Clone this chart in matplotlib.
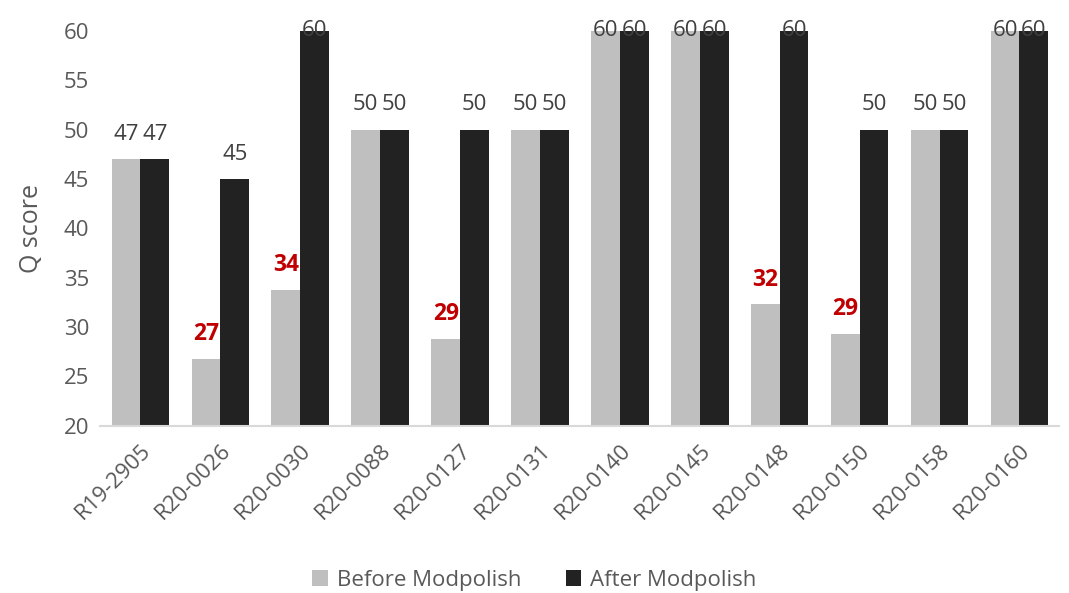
import matplotlib.pyplot as plt
import numpy as np

samples = ['R19-2905', 'R20-0026', 'R20-0030', 'R20-0088', 'R20-0127', 'R20-0131',
           'R20-0140', 'R20-0145', 'R20-0148', 'R20-0150', 'R20-0158', 'R20-0160']
before = [47, 26.8, 33.8, 50, 28.8, 50, 60, 60, 32.3, 29.3, 50, 60]
after = [47, 45, 60, 50, 50, 50, 60, 60, 60, 50, 50, 60]

plt.rcParams['font.family'] = ['Open Sans', 'DejaVu Sans']

fig = plt.figure(figsize=(10.69, 5.93), dpi=100)
ax = fig.add_axes([0.094, 0.282, 0.897, 0.666])

x = np.arange(len(samples))
w = 0.36
ax.bar(x - w / 2, before, w, color='#bfbfbf', label='Before Modpolish')
ax.bar(x + w / 2, after, w, color='#222222', label='After Modpolish')


def put_label(xi, v, **kw):
    # labels at the top of the axis sit on the bar edge, like Excel does
    y = v if v >= 60 else v + 2.5
    ax.text(xi, y, f'{round(v)}', ha='center', va='center', clip_on=False, **kw)


for xi, v in zip(x, before):
    if v < 45:
        put_label(xi - w / 2, v, color='#c00000', fontsize=16.5, fontweight='bold')
    else:
        put_label(xi - w / 2, v, color='#404040', fontsize=16)
for xi, v in zip(x, after):
    put_label(xi + w / 2, v, color='#404040', fontsize=16)

ax.set_ylim(20, 60)
ax.set_xlim(-0.5, len(samples) - 0.5)
ax.set_yticks(range(20, 61, 5))
ax.set_xticks(x)
ax.set_xticklabels(samples, rotation=45, ha='right', rotation_mode='anchor')
ax.tick_params(axis='both', length=0, labelsize=16, labelcolor='#595959')
ax.tick_params(axis='x', pad=10)
ax.tick_params(axis='y', pad=8)
ax.set_ylabel('Q score', fontsize=18, color='#595959', labelpad=14)

for s in ['top', 'right', 'left']:
    ax.spines[s].set_visible(False)
ax.spines['bottom'].set_color('#d9d9d9')
ax.spines['bottom'].set_linewidth(1.5)

fig.legend(loc='lower center', bbox_to_anchor=(0.5, -0.03), ncol=2, frameon=False,
           fontsize=16, labelcolor='#595959', handlelength=0.7, handleheight=0.7,
           columnspacing=2.0, handletextpad=0.4)

fig.savefig('out.png', dpi=100)
